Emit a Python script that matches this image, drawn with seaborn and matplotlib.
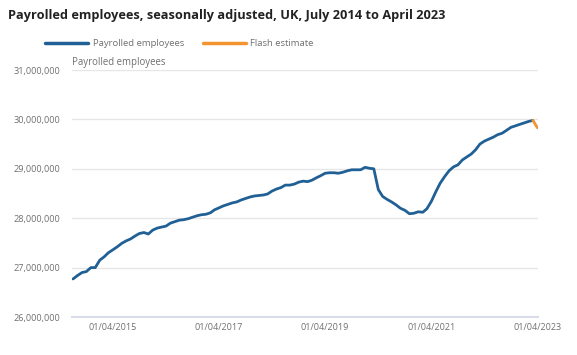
import matplotlib
matplotlib.use("Agg")
import matplotlib.pyplot as plt
import matplotlib.dates as mdates
import matplotlib.ticker as mticker
import numpy as np
import pandas as pd
import seaborn as sns

sns.set_theme(style="white")
plt.rcParams['font.family'] = ['Open Sans', 'DejaVu Sans']

# Data (millions), monthly from July 2014 to March 2023
start_month = "2014-07-01"
payrolled = [
    26.77, 26.84, 26.90, 26.92, 27.00, 27.00, 27.15, 27.22, 27.30, 27.36,
    27.42, 27.49, 27.54, 27.58, 27.64, 27.69, 27.71, 27.68, 27.76, 27.80,
    27.82, 27.84, 27.90, 27.93, 27.96, 27.97, 27.99, 28.02, 28.05, 28.07,
    28.08, 28.11, 28.17, 28.21, 28.25, 28.28, 28.31, 28.33, 28.37, 28.40,
    28.43, 28.45, 28.46, 28.47, 28.49, 28.55, 28.59, 28.62, 28.67, 28.67,
    28.69, 28.73, 28.75, 28.74, 28.77, 28.82, 28.86, 28.91, 28.92, 28.92,
    28.91, 28.93, 28.96, 28.98, 28.98, 28.98, 29.03, 29.01, 29.00, 28.58,
    28.44, 28.38, 28.33, 28.27, 28.20, 28.16, 28.09, 28.10, 28.13, 28.12,
    28.19, 28.34, 28.53, 28.71, 28.84, 28.96, 29.04, 29.08, 29.18, 29.24,
    29.30, 29.39, 29.50, 29.56, 29.60, 29.64, 29.69, 29.72, 29.78, 29.84,
    29.87, 29.90, 29.93, 29.96, 29.98,
]
flash_dates = ["2023-03-01", "2023-04-01"]
flash_values = [29.98, 29.83]

series_names = ["Payrolled employees", "Flash estimate"]
colors = {"Payrolled employees": "#206095", "Flash estimate": "#F39431"}

months = pd.date_range(start_month, periods=len(payrolled), freq="MS")
df = pd.concat([
    pd.DataFrame({"date": months, "value": np.array(payrolled) * 1e6,
                  "series": series_names[0]}),
    pd.DataFrame({"date": pd.to_datetime(flash_dates),
                  "value": np.array(flash_values) * 1e6,
                  "series": series_names[1]}),
])

fig = plt.figure(figsize=(5.77, 3.55), dpi=100)
ax = fig.add_axes([72 / 577, 1 - 317 / 355, 466 / 577, 247 / 355])

sns.lineplot(data=df, x="date", y="value", hue="series", palette=colors,
             linewidth=2.0, ax=ax, legend=False)

ax.set_xlim(pd.Timestamp("2014-06-24"), pd.Timestamp("2023-04-05"))
ax.set_ylim(26e6, 31e6)
ax.yaxis.set_major_locator(mticker.MultipleLocator(1e6))
ax.yaxis.set_major_formatter(mticker.FuncFormatter(lambda v, p: f"{v:,.0f}"))

tick_dates = pd.to_datetime(["2015-04-01", "2017-04-01", "2019-04-01",
                             "2021-04-01", "2023-04-01"])
ax.set_xticks(tick_dates)
ax.xaxis.set_major_formatter(mdates.DateFormatter("%d/%m/%Y"))

ax.grid(axis="y", color="#e6e6e6", linewidth=1)
ax.set_axisbelow(True)
for s in ["top", "right", "left"]:
    ax.spines[s].set_visible(False)
ax.spines["bottom"].set_color("#d9dde9")
ax.spines["bottom"].set_linewidth(1.5)
ax.tick_params(axis="x", colors="#d0d5e3", length=4, width=1, labelcolor="#707070",
               labelsize=6.5, pad=0.5)
ax.tick_params(axis="y", length=0, labelcolor="#707070", labelsize=6.6, pad=8.6)
ax.set_xlabel("")
ax.set_ylabel("")

ax.text(0, 1.008, "Payrolled employees", transform=ax.transAxes,
        fontsize=6.9, color="#707070", ha="left", va="bottom")

fig.text(8 / 577, 1 - 15 / 355, "Payrolled employees, seasonally adjusted, UK, July 2014 to April 2023",
         fontsize=9.2, fontweight="bold", color="#222222", ha="left", va="center")

handles = [plt.Line2D([], [], color=colors[n], linewidth=2.5) for n in series_names]
fig.legend(handles, series_names, loc="center left",
           bbox_to_anchor=(45 / 577, 1 - 44 / 355), ncol=2, frameon=False,
           fontsize=6.8, labelcolor="#707070", handlelength=4.6,
           handletextpad=0.43, columnspacing=2.0, borderpad=0, borderaxespad=0)

fig.savefig("out.png", dpi=100)
